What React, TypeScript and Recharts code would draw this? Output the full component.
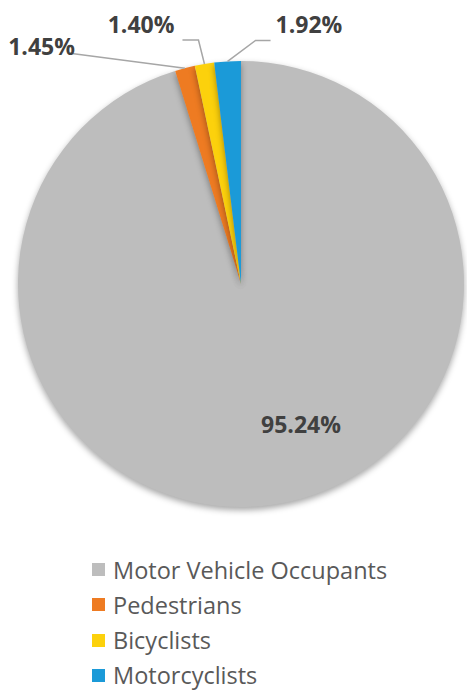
import { Cell, Pie, PieChart } from "recharts";

const categories = ["Motor Vehicle Occupants", "Pedestrians", "Bicyclists", "Motorcyclists"];
const shares = [95.24, 1.45, 1.4, 1.92];
const colors = ["#bdbdbd", "#ee7b22", "#fcd10c", "#1b9ad8"];

const data = categories.map((name, i) => ({ name, value: shares[i] }));

// hand-placed label spots (relative to slice edge point), like Excel's dragged labels
const labelSpots: Record<string, any> = {
  Pedestrians: { pts: [[-115, -15]], text: [-110, -13], anchor: "end" },
  Bicyclists: { pts: [[-6, -24], [-22, -24]], text: [-30, -31], anchor: "end" },
  Motorcyclists: { pts: [[28, -21], [43, -21]], text: [48, -28], anchor: "start" },
};

const RAD = Math.PI / 180;
const labelFont = { fill: "#404040", fontSize: 23, fontWeight: "bold", fontFamily: "Open Sans, sans-serif" };

function renderLabel(props: any) {
  const { cx, cy, midAngle, outerRadius, name, value } = props;
  const txt = value.toFixed(2) + "%";
  const ex = cx + outerRadius * Math.cos(-midAngle * RAD);
  const ey = cy + outerRadius * Math.sin(-midAngle * RAD);
  const spot = labelSpots[name];
  if (!spot) {
    // big slice: label sits inside
    return (
      <text x={cx + 60} y={cy + 149} textAnchor="middle" {...labelFont}>
        {txt}
      </text>
    );
  }
  const pts = [[ex, ey], ...spot.pts.map((p: number[]) => [ex + p[0], ey + p[1]])];
  return (
    <g>
      <polyline points={pts.map((p) => p.join(",")).join(" ")} fill="none" stroke="#a6a6a6" strokeWidth={1.5} />
      <text x={ex + spot.text[0]} y={ey + spot.text[1]} textAnchor={spot.anchor} {...labelFont}>
        {txt}
      </text>
    </g>
  );
}

function LegendList() {
  return (
    <div
      style={{
        position: "absolute",
        left: 92,
        top: 552,
        fontFamily: "Open Sans, sans-serif",
        fontSize: 23.5,
        lineHeight: 1.2,
        color: "#595959",
      }}
    >
      {categories.map((c, i) => (
        <div key={c} style={{ display: "flex", alignItems: "center", height: 35.3, whiteSpace: "nowrap" }}>
          <span style={{ display: "inline-block", width: 13, height: 13, background: colors[i], marginRight: 8 }} />
          {c}
        </div>
      ))}
    </div>
  );
}

export default function App() {
  return (
    <div style={{ position: "absolute", left: 0, top: 0, width: 467, height: 692, background: "#fff", overflow: "hidden" }}>
      <style>{`.recharts-pie-sector { filter: drop-shadow(0px 3px 3px rgba(0,0,0,0.35)); }`}</style>
      <PieChart width={467} height={692} margin={{ top: 0, right: 0, bottom: 0, left: 0 }}>
        <Pie
          data={data}
          dataKey="value"
          nameKey="name"
          cx={241}
          cy={284}
          outerRadius={223}
          startAngle={90}
          endAngle={-270}
          stroke="none"
          label={renderLabel}
          labelLine={false}
          isAnimationActive={false}
        >
          {data.map((d, i) => (
            <Cell key={d.name} fill={colors[i]} />
          ))}
        </Pie>
      </PieChart>
      <LegendList />
    </div>
  );
}
